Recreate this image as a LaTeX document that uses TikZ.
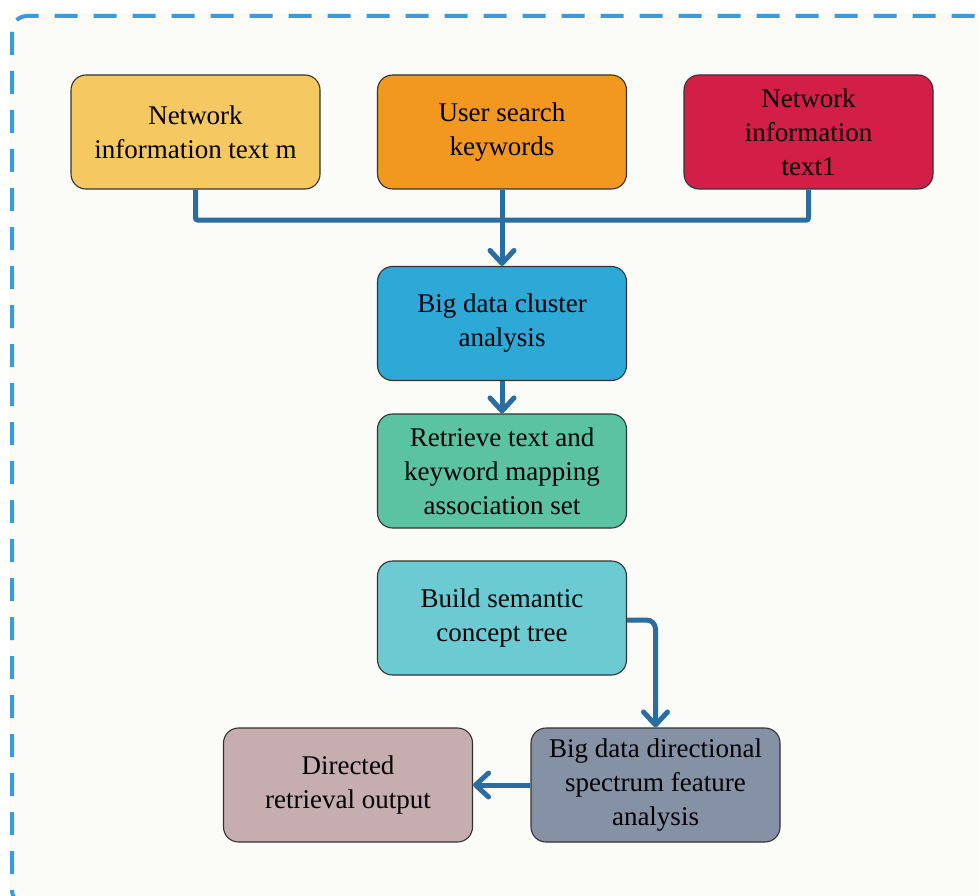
\documentclass[tikz,border=0pt]{standalone}
\usepackage{fontspec}
\setmainfont{Liberation Serif}
\usetikzlibrary{arrows.meta}
\definecolor{bgc}{HTML}{FBFBF7}
\definecolor{dashc}{HTML}{3A9BDC}
\definecolor{linec}{HTML}{2A6DA1}
\definecolor{cyel}{HTML}{F5C862}
\definecolor{cora}{HTML}{F2971F}
\definecolor{cred}{HTML}{D31F48}
\definecolor{cblu}{HTML}{2EA8D6}
\definecolor{cgrn}{HTML}{5BC3A2}
\definecolor{ccya}{HTML}{6CCAD3}
\definecolor{cslt}{HTML}{8591A5}
\definecolor{cmau}{HTML}{C5ADB0}
\tikzset{
  box/.style={draw=black!80, line width=1.1pt, rounded corners=15pt,
    minimum width=249pt, minimum height=114pt, inner sep=0pt,
    align=center, font=\fontsize{27}{34}\selectfont},
  conn/.style={draw=linec, line width=5pt},
  arr/.style={conn, -{Straight Barb[length=13pt,width=24pt,line width=5pt,round]}},
}
\begin{document}
\begin{tikzpicture}[x=1pt,y=-1pt]
\useasboundingbox (0,0) rectangle (979,896);
\clip (0,0) rectangle (979,896);
\fill[bgc] (9,13) rectangle (990,910);
\draw[dashc, line width=4pt, dash pattern=on 23pt off 16pt, dash phase=-1pt, rounded corners=15pt]
  (12,16) rectangle (987,905);
\node[box, fill=cyel] (n1) at (195.5,132) {Network\\information text m};
\node[box, fill=cora] (n2) at (502,132) {User search\\keywords};
\node[box, fill=cred] (n3) at (808.5,132) {Network\\information\\text1};
\node[box, fill=cblu] (n4) at (502,323.5) {Big data cluster\\analysis};
\node[box, fill=cgrn] (n5) at (502,471) {Retrieve text and\\keyword mapping\\association set};
\node[box, fill=ccya] (n6) at (502,618) {Build semantic\\concept tree};
\node[box, fill=cslt] (n7) at (655.5,785) {Big data directional\\spectrum feature\\analysis};
\node[box, fill=cmau] (n8) at (348,785) {Directed\\retrieval output};
\coordinate (bus) at (502,220);
\draw[conn, rounded corners=2pt] (n1.south) |- (bus) -| (n3.south);
\draw[arr] (n2.south) -- (n4.north);
\draw[arr] (n4.south) -- (n5.north);
\draw[arr, rounded corners=9pt] (n6.east |- 0,620) -| (n7.north);
\draw[arr] (n7.west) -- (n8.east);
\end{tikzpicture}
\end{document}
